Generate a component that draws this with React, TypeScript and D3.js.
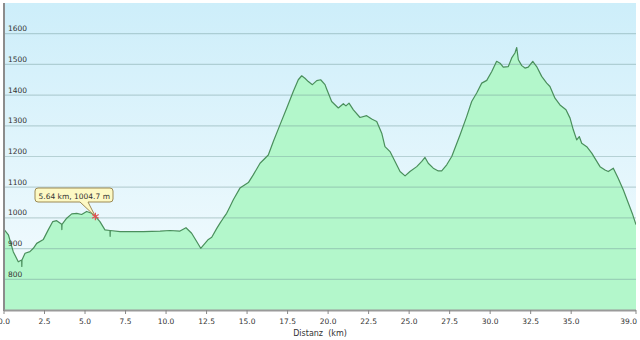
import React from "react";
import * as d3 from "d3";

const distKm: number[] = [
  0.0, 0.27, 0.57, 0.88, 1.09, 1.1, 1.11, 1.3, 1.6, 1.81, 2.02, 2.43, 2.73, 3.01, 3.25, 3.56, 3.57, 3.58, 3.87, 4.18, 4.49, 4.79, 5.1, 5.41, 5.64,
  5.92, 6.23, 6.54, 6.55, 6.56, 7.16, 7.57, 8.6, 9.63, 10.24, 10.86, 11.23, 11.58, 11.89, 12.14, 12.4, 12.61, 12.82,
  13.13, 13.33, 13.53, 13.74, 13.95, 14.15, 14.56, 15.08, 15.38, 15.8, 16.31, 16.62, 17.03, 17.45, 17.85, 18.16,
  18.37, 18.57, 18.78, 19.03, 19.3, 19.54, 19.81, 19.91, 20.22, 20.63, 20.94, 21.1, 21.29, 21.56, 21.97, 22.38,
  22.69, 23.0, 23.31, 23.51, 23.82, 24.13, 24.44, 24.75, 25.05, 25.47, 25.78, 25.98, 26.18, 26.49, 26.8, 27.01,
  27.32, 27.63, 28.14, 28.55, 28.86, 29.17, 29.48, 29.79, 30.1, 30.4, 30.61, 30.81, 31.12, 31.33, 31.53, 31.64,
  31.74, 31.95, 32.15, 32.35, 32.63, 32.87, 33.18, 33.49, 33.69, 34.0, 34.31, 34.68, 34.93, 35.13, 35.34, 35.5,
  35.65, 35.96, 36.27, 36.58, 36.78, 37.09, 37.29, 37.6, 37.9, 38.22, 38.53, 38.8, 39.0,
];

const elevM: number[] = [
  963, 945, 890, 857, 863, 842, 863, 885, 890, 901, 917, 930, 961, 988, 991, 979, 962, 979, 999, 1013, 1015, 1011, 1021, 1015, 1004.7,
  988, 961, 959, 940, 959, 955, 955, 955, 957, 959, 957, 968, 950, 923, 901, 917, 930, 937,
  966, 983, 999, 1015, 1037, 1059, 1097, 1115, 1140, 1178, 1205, 1249, 1303, 1358, 1412, 1450,
  1463, 1455, 1444, 1434, 1447, 1450, 1434, 1420, 1379, 1358, 1372, 1365, 1374, 1352, 1327, 1333,
  1322, 1314, 1276, 1232, 1216, 1184, 1151, 1137, 1151, 1167, 1184, 1197, 1178, 1162, 1153, 1153,
  1173, 1200, 1270, 1330, 1379, 1407, 1439, 1448, 1477, 1510, 1504, 1491, 1493, 1521, 1537, 1555,
  1515, 1496, 1488, 1491, 1510, 1493, 1461, 1439, 1428, 1390, 1368, 1352, 1325, 1287, 1254, 1265,
  1243, 1232, 1211, 1184, 1167, 1156, 1151, 1162, 1129, 1091, 1048, 1010, 978,
];

const xTicks: number[] = [0, 2.5, 5, 7.5, 10, 12.5, 15, 17.5, 20, 22.5, 25, 27.5, 30, 32.5, 35, 39];
const yTicks: number[] = [800, 900, 1000, 1100, 1200, 1300, 1400, 1500, 1600];
const xTitle = "Distanz  (km)";
const markerKm = 5.64;
const markerElev = 1004.7;
const tooltipText = "5.64 km, 1004.7 m";

export default function App() {
  const W = 640, H = 340;
  const x = d3.scaleLinear().domain([0, 39]).range([4, 636]);
  const y = d3.scaleLinear().domain([700, 1700]).range([310, 3]);
  const pts = distKm.map((d, i) => [d, elevM[i]] as [number, number]);
  const area = d3.area<[number, number]>().x((d) => x(d[0])).y0(y(700)).y1((d) => y(d[1]))(pts) || "";
  const line = d3.line<[number, number]>().x((d) => x(d[0])).y((d) => y(d[1]))(pts) || "";
  const font = "'DejaVu Sans', Verdana, sans-serif";
  const mx = x(markerKm), my = y(markerElev);
  const star = d3.symbol().type(d3.symbolAsterisk).size(40)() || "";
  const bx0 = 35, by0 = 188, bx1 = 113, by1 = 202;
  return (
    <svg width={W} height={H} style={{ position: "absolute", left: 0, top: 0 }} fontFamily={font}>
      <defs>
        <linearGradient id="bg" x1="0" y1="0" x2="0" y2="1">
          <stop offset="0" stopColor="#cdeefa" />
          <stop offset="1" stopColor="#f6fcfe" />
        </linearGradient>
        <clipPath id="plot">
          <rect x={4} y={3} width={632} height={307} />
        </clipPath>
      </defs>
      <rect x={0} y={0} width={W} height={H} fill="#ffffff" />
      <rect x={4} y={3} width={632} height={307} fill="url(#bg)" />
      <g clipPath="url(#plot)">
        <path d={area} fill="#b3f7cb" />
        {yTicks.map((t) => (
          <line key={t} x1={4} x2={636} y1={y(t)} y2={y(t)} stroke="rgba(110,150,150,0.38)" strokeWidth={1.2} />
        ))}
        <path d={line} fill="none" stroke="#4a8f5c" strokeWidth={1.2} strokeLinejoin="round" />
      </g>
      {yTicks.map((t) => (
        <text key={t} x={8} y={y(t) - 2.5} fontSize={7.5} fill="#333">
          {t}
        </text>
      ))}
      <line x1={4} x2={4} y1={3} y2={311} stroke="#8c8c8c" strokeWidth={2} />
      <line x1={4} x2={636} y1={310.5} y2={310.5} stroke="#9a9a9a" strokeWidth={2} />
      {xTicks.map((t, i) => (
        <g key={t}>
          <line x1={x(t)} x2={x(t)} y1={310} y2={314} stroke="#888" strokeWidth={1} />
          <text
            x={i === xTicks.length - 1 ? x(t) + 1 : x(t)}
            y={324}
            fontSize={7.5}
            fill="#333"
            textAnchor={i === xTicks.length - 1 ? "end" : "middle"}
          >
            {t.toFixed(1)}
          </text>
        </g>
      ))}
      <text x={320} y={335.5} fontSize={8} fill="#333" textAnchor="middle" xmlSpace="preserve">
        {xTitle}
      </text>
      <path
        d={`M${bx0 + 3},${by0} H${bx1 - 3} Q${bx1},${by0} ${bx1},${by0 + 3} V${by1 - 3} Q${bx1},${by1} ${bx1 - 3},${by1} H${88} L${mx},${my} L${80},${by1} H${bx0 + 3} Q${bx0},${by1} ${bx0},${by1 - 3} V${by0 + 3} Q${bx0},${by0} ${bx0 + 3},${by0} Z`}
        fill="#fdf9c4"
        stroke="#9c8a55"
        strokeWidth={1}
      />
      <text x={38.5} y={198.5} fontSize={7.5} fill="#333">
        {tooltipText}
      </text>
      <path d={star} transform={`translate(${mx},${my})`} fill="#f08080" stroke="#e25555" strokeWidth={1.2} />
    </svg>
  );
}
